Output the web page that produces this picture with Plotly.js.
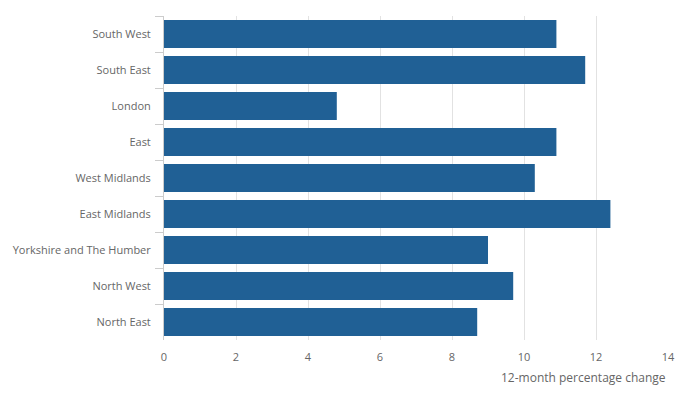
<!DOCTYPE html>
<html>
<head>
<meta charset="utf-8">
<script src="https://cdn.plot.ly/plotly-3.0.1.min.js"></script>
<style>html,body{margin:0;padding:0;background:#fff;}#chart{width:692px;height:397px;}</style>
</head>
<body>
<div id="chart"></div>
<script>
const regions = ["South West","South East","London","East","West Midlands","East Midlands","Yorkshire and The Humber","North West","North East"];
const changes = [10.9, 11.7, 4.8, 10.9, 10.3, 12.4, 9.0, 9.7, 8.7];
const xTicks = [0, 2, 4, 6, 8, 10, 12, 14];
const xTitle = "12-month percentage change";

const font = {family: "'Open Sans', sans-serif", size: 11, color: "#666666"};

Plotly.newPlot("chart", [{
  type: "bar",
  orientation: "h",
  y: regions,
  x: changes,
  marker: {color: "#206095"},
  hoverinfo: "x+y"
}], {
  width: 692, height: 397,
  margin: {l: 163.5, r: 24.3, t: 16, b: 57},
  paper_bgcolor: "#ffffff",
  plot_bgcolor: "#ffffff",
  font: font,
  bargap: 0.22,
  showlegend: false,
  xaxis: {
    range: [0, 14],
    tickvals: xTicks,
    ticktext: xTicks.map(String),
    showgrid: true,
    gridcolor: "#e2e2e2",
    gridwidth: 1,
    zeroline: false,
    showline: false,
    ticks: "",
    ticklabelstandoff: 9,
    tickfont: font,
    fixedrange: true
  },
  yaxis: {
    type: "category",
    autorange: "reversed",
    showgrid: false,
    zeroline: false,
    showline: true,
    linecolor: "#cccccc",
    linewidth: 1,
    ticks: "outside",
    tickson: "boundaries",
    ticklen: 8,
    tickcolor: "#cccccc",
    tickfont: font,
    ticklabelstandoff: 10,
    fixedrange: true
  },
  annotations: [{
    text: xTitle,
    xref: "paper", yref: "paper",
    x: 1, y: 0,
    xanchor: "right", yanchor: "top",
    yshift: -27,
    showarrow: false,
    font: {family: "'Open Sans', sans-serif", size: 12, color: "#666666"}
  }]
}, {displayModeBar: false, staticPlot: true});
</script>
</body>
</html>
